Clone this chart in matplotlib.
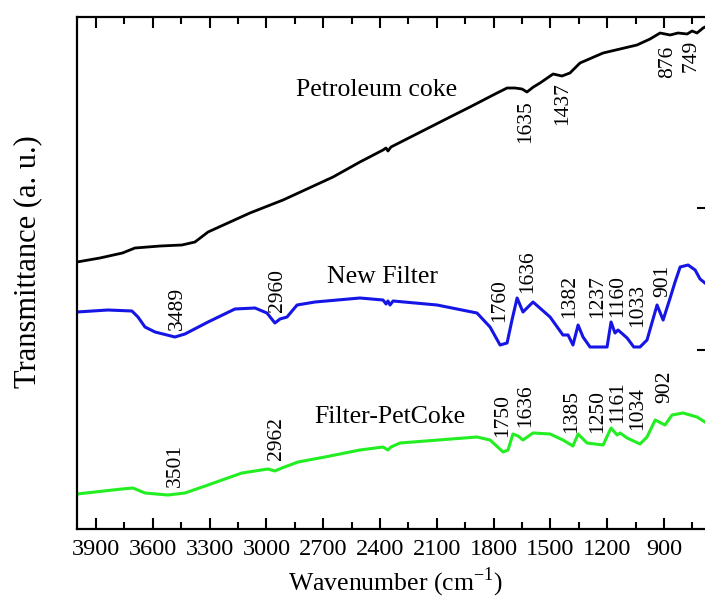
import matplotlib
matplotlib.use("Agg")
import matplotlib.pyplot as plt
from matplotlib.ticker import MultipleLocator

plt.rcParams['font.family'] = ['Liberation Serif', 'DejaVu Serif']
plt.rcParams['mathtext.fontset'] = 'custom'
plt.rcParams['mathtext.rm'] = 'Liberation Serif'

# petroleum coke spectrum (wavenumber, transmittance a.u.)
coke_wn = [4000, 3879, 3760, 3694, 3560, 3446, 3377, 3308, 3087, 2912, 2648, 2506, 2384, 2368,
           2358, 2342, 2030, 1925, 1782, 1729, 1687, 1650, 1624, 1590, 1555, 1486, 1439, 1397,
           1344, 1222, 1043, 974, 921, 868, 826, 778, 752, 726, 694, 684]
coke_t = [267, 271, 276, 281, 283, 284, 287, 297, 316, 329, 352, 367, 379, 381,
          378, 382, 412, 422, 436, 441, 441, 440, 437, 442, 446, 455, 453, 456,
          466, 476, 484, 490, 496, 494, 496, 495, 498, 496, 501, 502]

# new filter
filt_wn = [4000, 3837, 3710, 3678, 3641, 3588, 3483, 3430, 3308, 3166, 3060, 2997, 2955,
           2928, 2891, 2838, 2743, 2506, 2384, 2368, 2358, 2347, 2331, 2099, 1888, 1819,
           1766, 1729, 1703, 1676, 1645, 1592, 1502, 1434, 1407, 1381, 1354, 1328, 1291,
           1201, 1180, 1159, 1143, 1095, 1060, 1027, 990, 937, 905, 868, 842, 815,
           773, 736, 710, 684]
filt_t = [217, 219, 218, 212, 202, 197, 192, 195, 207, 220, 221, 216, 206,
          210, 212, 224, 227, 231, 229, 225, 228, 224, 228, 224, 216, 202,
          184, 186, 209, 231, 217, 227, 212, 194, 194, 184, 204, 192, 182,
          182, 207, 196, 199, 191, 182, 182, 189, 224, 209, 231, 247, 262,
          264, 259, 250, 246]

# filter with petcoke
mix_wn = [4000, 3763, 3705, 3641, 3520, 3430, 3308, 3129, 2992, 2955, 2918, 2833, 2691,
          2506, 2384, 2358, 2342, 2294, 1888, 1819, 1750, 1724, 1698, 1671, 1645, 1592,
          1502, 1434, 1381, 1354, 1307, 1222, 1180, 1148, 1132, 1095, 1027, 990, 947,
          895, 858, 800, 726, 684]
mix_t = [35, 40, 41, 36, 34, 36, 44, 56, 60, 58, 61, 67, 72,
         79, 82, 79, 82, 86, 92, 89, 77, 79, 95, 93, 89, 96,
         95, 89, 83, 95, 86, 84, 101, 94, 96, 91, 85, 92, 109,
         104, 114, 116, 112, 107]

# peak labels: (text, wavenumber, bottom of label)
coke_peaks = [("1635", 1630, 386), ("1437", 1433, 404), ("876", 879, 451), ("749", 757, 457)]
filt_peaks = [("3489", 3472, 199), ("2960", 2939, 217), ("1760", 1766, 207), ("1636", 1618, 236),
              ("1382", 1396, 211), ("1237", 1249, 211), ("1160", 1143, 212), ("1033", 1037, 202),
              ("901", 905, 232)]
mix_peaks = [("3501", 3483, 42), ("2962", 2944, 69), ("1750", 1750, 92), ("1636", 1629, 102),
             ("1385", 1386, 96), ("1250", 1249, 96), ("1161", 1143, 106), ("1034", 1037, 99),
             ("902", 895, 126)]

fig = plt.figure(figsize=(7.05, 5.99), dpi=100)
ax = fig.add_axes([77/705, 1 - 529/599, 631/705, 512/599])

ax.plot(coke_wn, coke_t, color='black', lw=2, solid_joinstyle='round')
ax.plot(filt_wn, filt_t, color='#1515e6', lw=2.2, solid_joinstyle='round')
ax.plot(mix_wn, mix_t, color='#22ee22', lw=2.2, solid_joinstyle='round')

for peaks in (coke_peaks, filt_peaks, mix_peaks):
    for txt, x, y in peaks:
        ax.text(x, y, txt, rotation=90, ha='center', va='bottom', fontsize=15.5)

ax.text(2416, 439, "Petroleum coke", ha='center', va='center', fontsize=18.5)
ax.text(2389, 252, "New Filter", ha='center', va='center', fontsize=18.5)
ax.text(2347, 112, "Filter-PetCoke", ha='center', va='center', fontsize=18.5)

ax.set_xlim(4000, 668)
ax.set_ylim(0, 512)
ax.xaxis.set_major_locator(MultipleLocator(300))
ax.xaxis.set_minor_locator(MultipleLocator(150))
ax.tick_params(axis='x', which='both', direction='in', top=True, labelsize=17.5, width=1.5, pad=7)
ax.tick_params(axis='x', which='major', length=8)
ax.tick_params(axis='x', which='minor', length=5)

# only the two right-hand marks on the y axis
ax.set_yticks([179, 321])
ax.tick_params(axis='y', which='both', direction='in', left=False, right=True,
               labelleft=False, length=8, width=1.5)
for s in ax.spines.values():
    s.set_linewidth(1.6)

ax.set_xlabel("Wavenumber (cm$^{-1}$)", fontsize=18.5)
ax.xaxis.set_label_coords(0.505, -0.072)
ax.set_ylabel("Transmittance (a. u.)", fontsize=22)
ax.yaxis.set_label_coords(-0.055, 0.523)

fig.savefig("out.png", dpi=100)
